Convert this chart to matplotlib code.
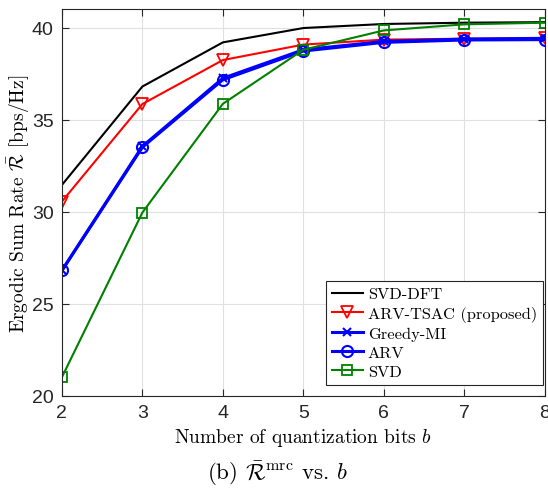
import numpy as np
import matplotlib
matplotlib.use("Agg")
import matplotlib.pyplot as plt

# quantization bits
bits = [2, 3, 4, 5, 6, 7, 8]

# ergodic sum rate [bps/Hz]
svd_dft = [31.45, 36.8, 39.2, 39.98, 40.2, 40.27, 40.3]
arv_tsac = [30.55, 35.85, 38.24, 39.08, 39.35, 39.4, 39.42]
greedy_mi = [26.8, 33.55, 37.25, 38.8, 39.25, 39.38, 39.42]
arv = [26.8, 33.5, 37.17, 38.73, 39.2, 39.33, 39.35]
svd = [21.0, 29.95, 35.86, 38.8, 39.85, 40.18, 40.27]

y_ticks = [20, 25, 30, 35, 40]

plt.rcParams['mathtext.fontset'] = 'cm'
plt.rcParams['font.family'] = ['Liberation Sans', 'DejaVu Sans']
serif = 'cmr10'

fig = plt.figure(figsize=(5.48, 4.89), dpi=100)
ax = fig.add_axes([0.113, 0.189, 0.881, 0.790])

ax.plot(bits, svd_dft, color='black', lw=1.5, label='SVD-DFT')
ax.plot(bits, arv_tsac, color='red', lw=1.5, marker='v', ms=9, mfc='none',
        mew=1.3, label='ARV-TSAC (proposed)')
ax.plot(bits, greedy_mi, color='blue', lw=2.2, marker='x', ms=6, mew=1.5,
        label='Greedy-MI')
ax.plot(bits, arv, color='blue', lw=2.2, marker='o', ms=8, mfc='none',
        mew=1.5, label='ARV')
ax.plot(bits, svd, color='green', lw=1.5, marker='s', ms=6.5, mfc='none',
        mew=1.3, label='SVD')

ax.set_xlim(2, 8)
ax.set_ylim(20, 41)
ax.set_xticks(bits)
ax.set_yticks(y_ticks)
ax.tick_params(direction='in', top=True, right=True, labelsize=14,
               colors='#262626', length=5, pad=6)
for s in ax.spines.values():
    s.set_color('#262626')
    s.set_linewidth(0.8)
ax.grid(True, color='#e0e0e0', lw=0.8)

ax.set_xlabel(r'Number of quantization bits $b$', fontfamily=serif,
              fontsize=14, labelpad=4)
ax.set_ylabel(r'Ergodic Sum Rate $\bar{\mathcal{R}}$ [bps/Hz]',
              fontfamily=serif, fontsize=14)
ax.yaxis.set_label_coords(-0.062, 0.5)

leg = ax.legend(loc='lower right', bbox_to_anchor=(0.996, 0.028),
                borderaxespad=0, prop={'family': serif, 'size': 11.8},
                fancybox=False, edgecolor='#262626', framealpha=1,
                handlelength=1.9, labelspacing=0.28,
                handletextpad=0.3, borderpad=0.35)
leg.get_frame().set_linewidth(0.8)

fig.text(0.507, 0.032, r'(b) $\bar{\mathcal{R}}^{\mathrm{mrc}}$ vs. $b$',
         fontfamily=serif, fontsize=16.5, ha='center', va='center')

fig.savefig('out.png', dpi=100)
